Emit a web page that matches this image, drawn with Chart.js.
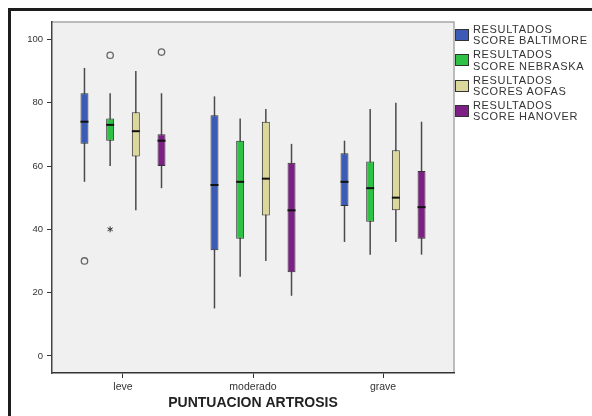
<!DOCTYPE html>
<html>
<head>
<meta charset="utf-8">
<script src="https://cdn.jsdelivr.net/npm/chart.js@4"></script>
<style>
  body { margin: 0; background: #fff; font-family: "Liberation Sans", Arial, sans-serif; }
  #wrap { position: relative; width: 592px; height: 416px; overflow: hidden; }
  #frame { position: absolute; left: 8px; top: 8px; width: 620px; height: 440px;
           border-top: 3px solid #1c1c1c; border-left: 3px solid #1c1c1c; }
  #chart { position: absolute; left: 0; top: 0; }
  #legend { position: absolute; left: 455px; top: 24px; }
  .item { position: relative; height: 25.3px; }
  .sw { position: absolute; left: 0; top: 5px; width: 14px; height: 12px; box-sizing: border-box; border: 1px solid #333; }
  .txt { position: absolute; left: 18px; top: 0; font-size: 11px; line-height: 11.3px; letter-spacing: 0.65px; color: #333; white-space: nowrap; }
</style>
</head>
<body>
<div id="wrap">
  <div id="frame"></div>
  <canvas id="chart" width="592" height="416"></canvas>
  <div id="legend"></div>
</div>
<script>
// Box plot: puntuacion artrosis vs resultados de scores
const categories = ['leve', 'moderado', 'grave'];
const yTicks = [0, 20, 40, 60, 80, 100];

// whisker low, Q1, median, Q3, whisker high per category
const baltimoreLow = [55, 15, 36];
const baltimoreQ1 = [67, 33.4, 47.4];
const baltimoreMed = [74, 54, 55];
const baltimoreQ3 = [83, 76, 64];
const baltimoreHigh = [91, 82, 68];
const baltimoreOutliers = [[30], [], []];

const nebraskaLow = [60, 25, 32];
const nebraskaQ1 = [68, 37, 42.4];
const nebraskaMed = [73, 55, 53];
const nebraskaQ3 = [75, 68, 61.4];
const nebraskaHigh = [83, 75, 78];
const nebraskaOutliers = [[95], [], []];
const nebraskaExtremes = [[40], [], []];

const aofasLow = [46, 30, 36];
const aofasQ1 = [63, 44.4, 46];
const aofasMed = [71, 56, 50];
const aofasQ3 = [77, 74, 65];
const aofasHigh = [90, 78, 80];

const hanoverLow = [53, 19, 32];
const hanoverQ1 = [60, 26.4, 37];
const hanoverMed = [68, 46, 47];
const hanoverQ3 = [70, 61, 58.4];
const hanoverHigh = [83, 67, 74];
const hanoverOutliers = [[96], [], []];

const seriesNames = [
  ['RESULTADOS', 'SCORE BALTIMORE'],
  ['RESULTADOS', 'SCORE NEBRASKA'],
  ['RESULTADOS', 'SCORES AOFAS'],
  ['RESULTADOS', 'SCORE HANOVER']
];
const seriesColors = ['#3b5bb6', '#2fc046', '#dcd79a', '#7d1f85'];

function boxSeries(idx, low, q1, med, q3, high, outliers, extremes) {
  return {
    label: seriesNames[idx].join(' '),
    data: categories.map((c, i) => ({ x: i, y: [q1[i], q3[i]] })),
    backgroundColor: seriesColors[idx],
    borderColor: '#333',
    borderWidth: 1,
    borderSkipped: false,
    low: low, med: med, high: high,
    outliers: outliers || [[], [], []],
    extremes: extremes || [[], [], []]
  };
}

const boxPlot = {
  id: 'boxPlot',
  beforeDraw(chart) {
    const { ctx, chartArea: a } = chart;
    ctx.save();
    ctx.fillStyle = '#f0f0f0';
    ctx.fillRect(a.left, a.top, a.right - a.left, a.bottom - a.top);
    ctx.strokeStyle = '#a8a8a8';
    ctx.lineWidth = 1.5;
    ctx.beginPath();
    ctx.moveTo(a.left, a.top);
    ctx.lineTo(a.right, a.top);
    ctx.lineTo(a.right, a.bottom);
    ctx.stroke();
    ctx.restore();
  },
  beforeDatasetsDraw(chart) {
    const { ctx } = chart;
    const y = chart.scales.y;
    ctx.save();
    ctx.strokeStyle = '#4a4a4a';
    ctx.lineWidth = 1.5;
    chart.data.datasets.forEach((ds, d) => {
      chart.getDatasetMeta(d).data.forEach((bar, i) => {
        ctx.beginPath();
        ctx.moveTo(bar.x, y.getPixelForValue(ds.low[i]));
        ctx.lineTo(bar.x, y.getPixelForValue(ds.high[i]));
        ctx.stroke();
      });
    });
    ctx.restore();
  },
  afterDatasetsDraw(chart) {
    const { ctx } = chart;
    const y = chart.scales.y;
    ctx.save();
    chart.data.datasets.forEach((ds, d) => {
      chart.getDatasetMeta(d).data.forEach((bar, i) => {
        const half = bar.width / 2;
        const my = y.getPixelForValue(ds.med[i]);
        ctx.strokeStyle = '#111';
        ctx.lineWidth = 2;
        ctx.beginPath();
        ctx.moveTo(bar.x - half, my);
        ctx.lineTo(bar.x + half, my);
        ctx.stroke();

        ds.outliers[i].forEach(v => {
          ctx.strokeStyle = '#666';
          ctx.lineWidth = 1.3;
          ctx.beginPath();
          ctx.arc(bar.x, y.getPixelForValue(v), 3.2, 0, Math.PI * 2);
          ctx.stroke();
        });
        ds.extremes[i].forEach(v => {
          const py = y.getPixelForValue(v);
          ctx.strokeStyle = '#333';
          ctx.lineWidth = 1;
          for (let k = 0; k < 3; k++) {
            const ang = Math.PI / 2 + k * Math.PI / 3;
            ctx.beginPath();
            ctx.moveTo(bar.x - 3 * Math.cos(ang), py - 3 * Math.sin(ang));
            ctx.lineTo(bar.x + 3 * Math.cos(ang), py + 3 * Math.sin(ang));
            ctx.stroke();
          }
        });
      });
    });
    ctx.restore();
  }
};

new Chart(document.getElementById('chart'), {
  type: 'bar',
  data: {
    datasets: [
      boxSeries(0, baltimoreLow, baltimoreQ1, baltimoreMed, baltimoreQ3, baltimoreHigh, baltimoreOutliers),
      boxSeries(1, nebraskaLow, nebraskaQ1, nebraskaMed, nebraskaQ3, nebraskaHigh, nebraskaOutliers, nebraskaExtremes),
      boxSeries(2, aofasLow, aofasQ1, aofasMed, aofasQ3, aofasHigh),
      boxSeries(3, hanoverLow, hanoverQ1, hanoverMed, hanoverQ3, hanoverHigh, hanoverOutliers)
    ]
  },
  options: {
    responsive: false,
    animation: false,
    categoryPercentage: 0.79,
    barPercentage: 0.31,
    layout: { padding: { left: 0, right: 138, top: 22, bottom: 0 } },
    plugins: {
      legend: { display: false },
      tooltip: { enabled: false }
    },
    scales: {
      x: {
        type: 'linear',
        min: -0.546,
        max: 2.546,
        offset: false,
        afterBuildTicks: scale => { scale.ticks = categories.map((c, i) => ({ value: i })); },
        afterFit: scale => { scale.height = 43; },
        grid: { offset: false, drawOnChartArea: false, tickLength: 5, color: '#333' },
        border: { display: true, color: '#333', width: 1.5 },
        ticks: {
          color: '#333',
          font: { family: '"Liberation Sans", Arial, sans-serif', size: 10.5 },
          padding: 3,
          maxRotation: 0,
          callback: (v, i) => categories[i]
        },
        title: {
          display: true,
          text: 'PUNTUACION ARTROSIS',
          color: '#222',
          font: { family: '"Liberation Sans", Arial, sans-serif', size: 14, weight: 'bold' },
          padding: { top: 0, bottom: 4 }
        }
      },
      y: {
        min: -5.4,
        max: 105.5,
        afterBuildTicks: scale => { scale.ticks = yTicks.map(v => ({ value: v })); },
        afterFit: scale => { scale.width = 52; },
        grid: { drawOnChartArea: false, tickLength: 5, color: '#333' },
        border: { display: true, color: '#444', width: 1.5 },
        ticks: {
          color: '#333',
          font: { family: '"Liberation Sans", Arial, sans-serif', size: 9.5 },
          padding: 4
        }
      }
    }
  },
  plugins: [boxPlot]
});

// legend
const legend = document.getElementById('legend');
seriesNames.forEach((lines, i) => {
  const item = document.createElement('div');
  item.className = 'item';
  item.innerHTML = '<div class="sw" style="background:' + seriesColors[i] + '"></div>' +
    '<div class="txt">' + lines.join('<br>') + '</div>';
  legend.appendChild(item);
});
</script>
</body>
</html>
